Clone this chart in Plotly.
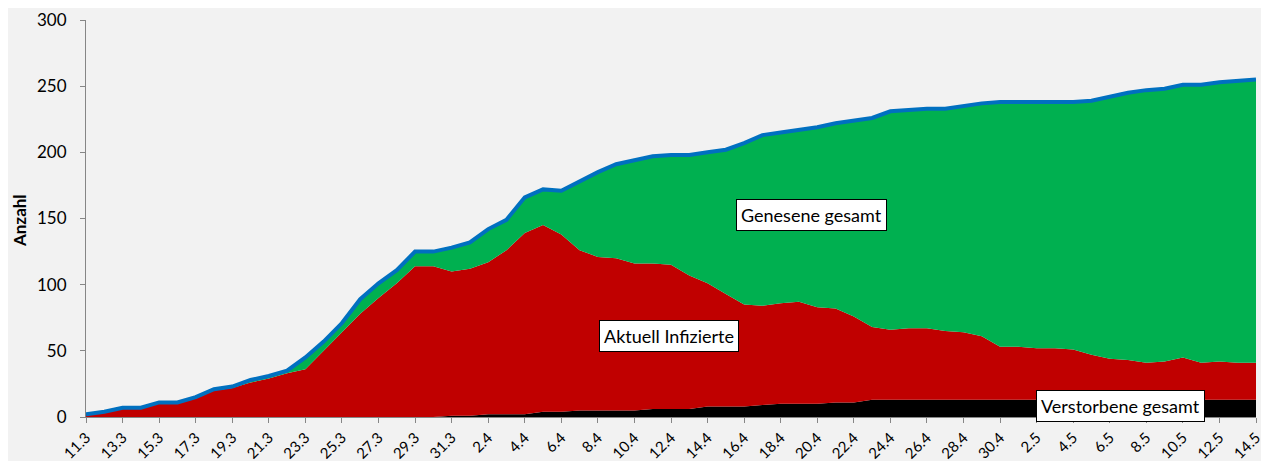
import plotly.graph_objects as go

dates = ["11.3","12.3","13.3","14.3","15.3","16.3","17.3","18.3","19.3","20.3",
         "21.3","22.3","23.3","24.3","25.3","26.3","27.3","28.3","29.3","30.3",
         "31.3","1.4","2.4","3.4","4.4","5.4","6.4","7.4","8.4","9.4",
         "10.4","11.4","12.4","13.4","14.4","15.4","16.4","17.4","18.4","19.4",
         "20.4","21.4","22.4","23.4","24.4","25.4","26.4","27.4","28.4","29.4",
         "30.4","1.5","2.5","3.5","4.5","5.5","6.5","7.5","8.5","9.5",
         "10.5","11.5","12.5","13.5","14.5"]

verstorbene = [0,0,0,0,0,0,0,0,0,0,
               0,0,0,0,0,0,0,0,0,0,
               1,1,2,2,2,4,4,5,5,5,
               5,6,6,6,8,8,8,9,10,10,
               10,11,11,13,13,13,13,13,13,13,
               13,13,13,13,13,13,13,13,13,13,
               13,13,13,13,13]

infizierte = [2,4,7,7,11,11,14,20,22,26,
              29,33,36,50,64,78,90,101,114,114,
              109,111,115,124,137,141,134,121,116,115,
              111,110,109,101,93,85,77,75,76,77,
              73,71,65,55,53,54,54,52,51,48,
              40,40,39,39,38,34,31,30,28,29,
              32,28,29,28,28]

genesene = [0,0,0,0,0,0,1,1,1,2,
            2,2,9,7,7,11,11,10,11,11,
            18,20,25,23,27,27,33,52,64,71,
            78,81,83,91,99,109,122,129,129,130,
            136,140,148,158,165,165,166,168,171,176,
            185,185,186,186,187,192,198,202,206,206,
            206,210,211,213,214]

gesamt = [v + i + g for v, i, g in zip(verstorbene, infizierte, genesene)]

yticks = [0, 50, 100, 150, 200, 250, 300]

x = list(range(len(dates)))
tickvals = x[::2]
ticktext = dates[::2]

fig = go.Figure()
fig.add_trace(go.Scatter(x=x, y=verstorbene, stackgroup="s", mode="none",
                         fillcolor="#000000", name="Verstorbene gesamt"))
fig.add_trace(go.Scatter(x=x, y=infizierte, stackgroup="s", mode="none",
                         fillcolor="#C00000", name="Aktuell Infizierte"))
fig.add_trace(go.Scatter(x=x, y=genesene, stackgroup="s", mode="none",
                         fillcolor="#00B050", name="Genesene gesamt"))
fig.add_trace(go.Scatter(x=x, y=gesamt, mode="lines",
                         line=dict(color="#0070C0", width=4), name="Gesamt"))

font = "Lato, 'Open Sans', sans-serif"

def box(text, xv, yv):
    return dict(x=xv, y=yv, xref="x", yref="y", text=text, showarrow=False,
                bgcolor="#FFFFFF", bordercolor="#000000", borderwidth=1,
                borderpad=4, font=dict(family=font, size=18, color="#000000"))

fig.update_layout(
    width=1261, height=453,
    paper_bgcolor="#F2F2F2", plot_bgcolor="#F2F2F2",
    margin=dict(l=78, r=13, t=12, b=44),
    showlegend=False,
    font=dict(family=font, color="#000000"),
    xaxis=dict(range=[0, len(dates) - 1], tickmode="array", tickvals=tickvals,
               ticktext=ticktext, tickangle=-45, showgrid=False, zeroline=False,
               showline=True, linecolor="#868686", linewidth=1,
               ticks="outside", ticklen=5, tickcolor="#868686",
               tickfont=dict(size=15, family=font), automargin=False,
               ticklabeloverflow="allow"),
    yaxis=dict(range=[0, 300], tickmode="array", tickvals=yticks,
               showgrid=False, zeroline=False, showline=True,
               linecolor="#868686", linewidth=1, ticks="outside", ticklen=5,
               tickcolor="#868686", tickfont=dict(size=17, family=font),
               ticklabelstandoff=10, ticklabeloverflow="allow",
               automargin=False),
    annotations=[
        dict(text="<b>Anzahl</b>", xref="paper", yref="paper", x=-0.0573, y=0.496,
             xanchor="center", yanchor="middle", textangle=-90, showarrow=False,
             font=dict(size=17, family=font, color="#000000")),
        box("Genesene gesamt", 39.7, 153),
        box("Aktuell Infizierte", 31.9, 61),
        box("Verstorbene gesamt", 56.6, 8.5),
    ],
)

fig.write_html("out.html")
